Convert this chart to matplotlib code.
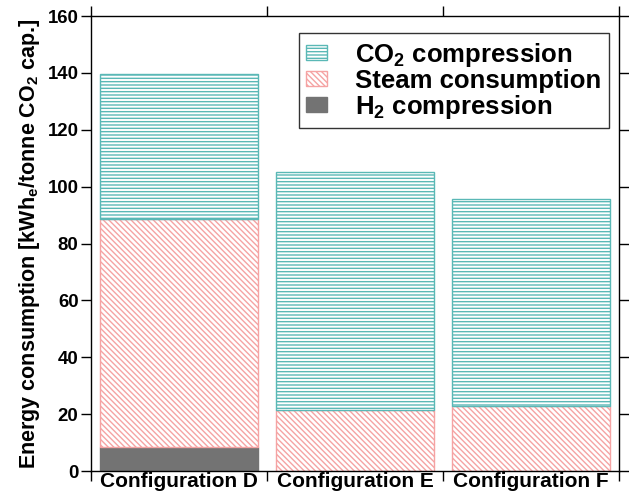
import matplotlib
matplotlib.use('Agg')
import matplotlib.pyplot as plt
from matplotlib.patches import Patch
import numpy as np

configs = ['Configuration D', 'Configuration E', 'Configuration F']
h2_comp = [8.5, 0.0, 0.0]
steam = [80.0, 21.5, 23.0]
co2_comp = [51.0, 83.5, 72.5]

TEAL = '#5ab8b6'
PINK = '#f5a3a3'
GREY = '#737373'
HATCH_CO2 = '-----'
HATCH_STEAM = '\\' * 6

plt.rcParams['font.family'] = ['Liberation Sans', 'DejaVu Sans']
plt.rcParams['font.weight'] = 'bold'
plt.rcParams['mathtext.fontset'] = 'custom'
plt.rcParams['mathtext.rm'] = 'Liberation Sans:bold'
plt.rcParams['mathtext.bf'] = 'Liberation Sans:bold'
plt.rcParams['mathtext.default'] = 'bf'
plt.rcParams['hatch.linewidth'] = 1.0

fig = plt.figure(figsize=(6.29, 4.93), dpi=100)
ax = fig.add_axes([0.1447, 0.0446, 0.8395, 0.9229])

x = np.arange(len(configs))
w = 0.9
h2 = np.array(h2_comp)
st = np.array(steam)
co2 = np.array(co2_comp)

ax.bar(x, h2, w, color=GREY, edgecolor=GREY, linewidth=1)
ax.bar(x, st, w, bottom=h2, facecolor='white', edgecolor=PINK,
       hatch=HATCH_STEAM, linewidth=1)
ax.bar(x, co2, w, bottom=h2 + st, facecolor='white', edgecolor=TEAL,
       hatch=HATCH_CO2, linewidth=1)

ax.set_xlim(-0.5, 2.5)
ax.set_ylim(0, 160)
ax.set_yticks(np.arange(0, 161, 20))
ax.set_xticks([-0.5, 0.5, 1.5, 2.5])
ax.set_xticklabels([])
ax.set_xticks(x, minor=True)
ax.set_xticklabels(configs, minor=True, fontsize=15, fontweight='bold')
ax.tick_params(axis='x', which='minor', length=0, pad=1)
ax.tick_params(which='major', direction='out', length=7, width=1,
               top=True, right=True, labelsize=13.4)
ax.tick_params(axis='y', pad=2)
for s in ax.spines.values():
    s.set_linewidth(1)

ax.set_ylabel('Energy consumption [kWh$_e$/tonne CO$_2$ cap.]',
              fontsize=15.5, fontweight='bold', labelpad=4)

handles = [
    Patch(facecolor='white', edgecolor=TEAL, hatch=HATCH_CO2, label='CO$_2$ compression'),
    Patch(facecolor='white', edgecolor=PINK, hatch=HATCH_STEAM, label='Steam consumption'),
    Patch(facecolor=GREY, edgecolor=GREY, label='H$_2$ compression'),
]
leg = ax.legend(handles=handles, loc='upper right', bbox_to_anchor=(0.981, 0.963),
                borderaxespad=0, fontsize=18.5, frameon=True, fancybox=False,
                edgecolor='black', handlelength=0.8, handleheight=0.5,
                handletextpad=1.1, labelspacing=0.0, borderpad=0.3)
leg.get_frame().set_linewidth(1)

fig.savefig('out.png', dpi=100)
